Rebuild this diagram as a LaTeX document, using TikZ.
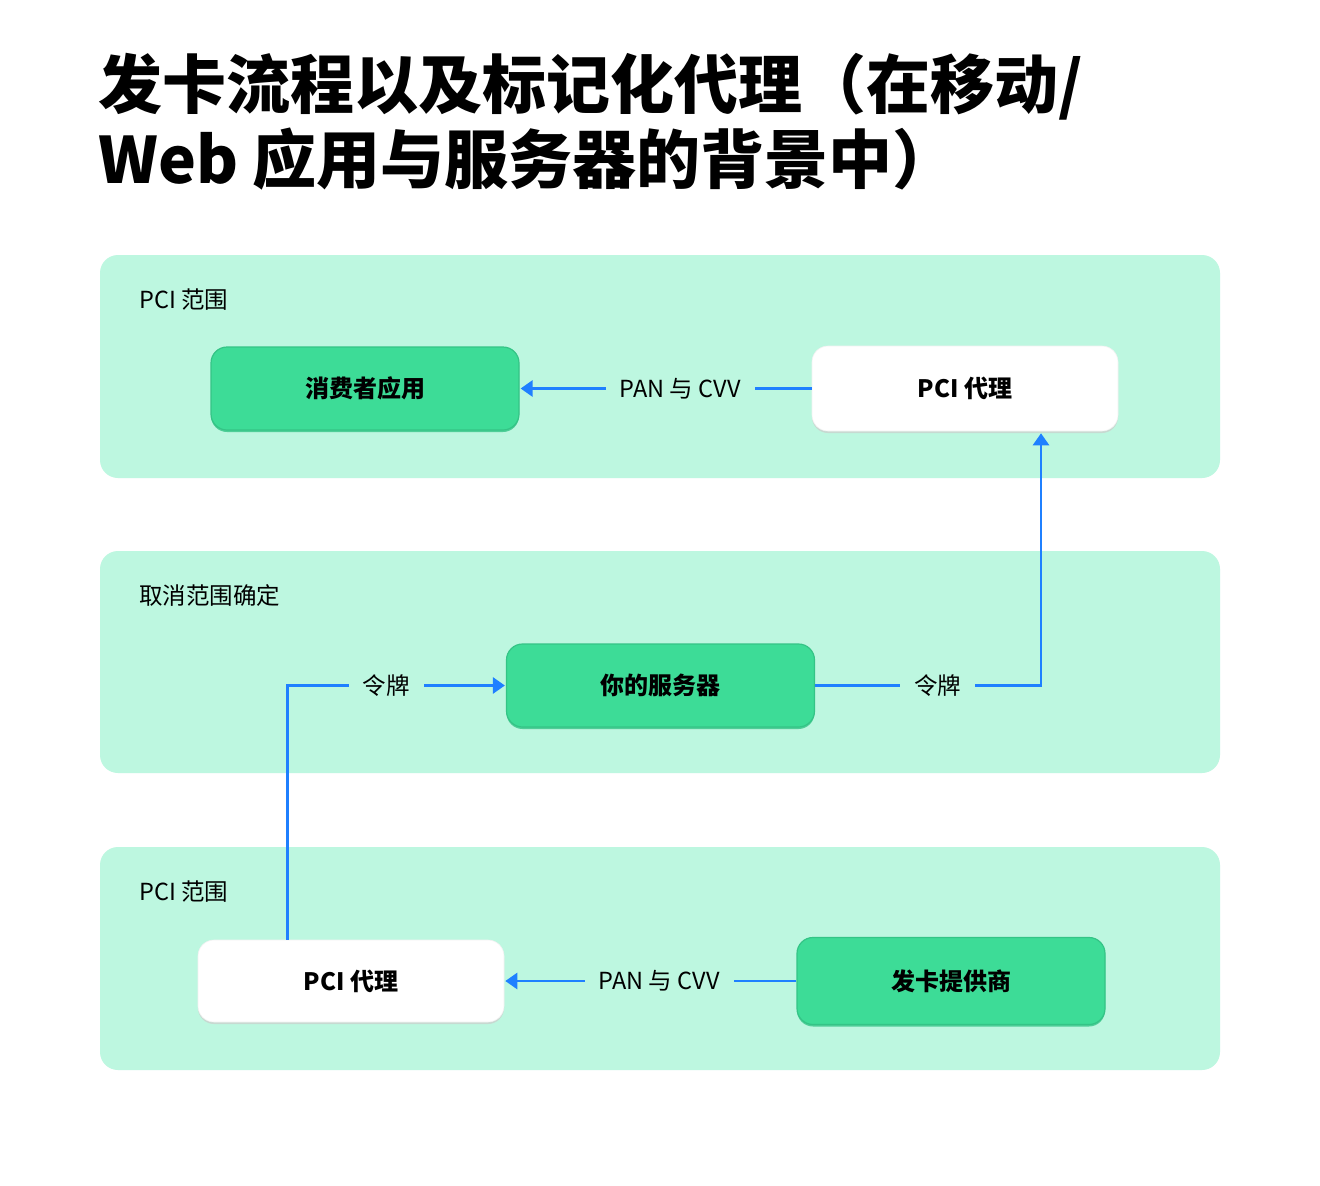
\documentclass[tikz,border=0pt]{standalone}
\usepackage{fontspec}
\setmainfont{Noto Sans CJK SC}
\usetikzlibrary{arrows.meta,calc,shadows}
\definecolor{panelbg}{HTML}{BDF7E0}
\definecolor{nodegreen}{HTML}{3DDC97}
\definecolor{greenedge}{HTML}{34C486}
\definecolor{flowblue}{HTML}{1F80FF}
\definecolor{shadowgray}{HTML}{C9D6D0}
\begin{document}
\begin{tikzpicture}[x=1pt,y=-1pt,
  panel/.style={fill=panelbg, rounded corners=18pt},
  panellabel/.style={anchor=west, inner sep=0pt, font=\fontsize{23.5}{28}\selectfont},
  greenbox/.style={rectangle, rounded corners=16pt, fill=nodegreen, draw=greenedge, line width=1.2pt,
    minimum width=308pt, minimum height=83pt, inner sep=0pt,
    font=\bfseries\fontsize{24}{28}\selectfont,
    drop shadow={shadow xshift=0pt, shadow yshift=-2pt, fill=greenedge, opacity=0.8}},
  whitebox/.style={rectangle, rounded corners=16pt, fill=white, draw=white!90!gray, line width=0.6pt,
    minimum width=306pt, minimum height=85pt, inner sep=0pt,
    font=\bfseries\fontsize{24}{28}\selectfont,
    drop shadow={shadow xshift=0pt, shadow yshift=-2pt, fill=shadowgray, opacity=0.9}},
  flow/.style={draw=flowblue, line width=2.8pt, -{Triangle[length=12pt,width=16pt]}},
  lbl/.style={fill=panelbg, inner xsep=14pt, inner ysep=4pt, font=\fontsize{23.5}{28}\selectfont}
]
\useasboundingbox[fill=white] (0,0) rectangle (1320,1186);

% title
\node[anchor=base west, inner sep=0pt, font=\bfseries\fontsize{64}{75}\selectfont] (title1) at (98,108) {发卡流程以及标记化代理（在移动/};
\node[anchor=base west, inner sep=0pt, font=\bfseries\fontsize{64}{75}\selectfont] (title2) at (98,183) {Web 应用与服务器的背景中）};

% panels
\fill[panel] (100,255) rectangle (1220,478);
\fill[panel] (100,551) rectangle (1220,773);
\fill[panel] (100,847) rectangle (1220,1070);

\node[panellabel] (p1) at (139,300) {PCI 范围};
\node[panellabel] (p2) at (139,596) {取消范围确定};
\node[panellabel] (p3) at (139,892) {PCI 范围};

% nodes
\node[greenbox] (app) at (365,388.5) {消费者应用};
\node[whitebox] (proxyTop) at (965,388.5) {PCI 代理};
\node[greenbox] (server) at (660.5,685.5) {你的服务器};
\node[whitebox, minimum height=82pt] (proxyBot) at (351,981) {PCI 代理};
\node[greenbox, minimum height=87pt] (issuer) at (951,981) {发卡提供商};

\coordinate (botUp) at ($(proxyBot.north west)+(90,0)$);
\coordinate (topIn) at ($(proxyTop.south)+(76,0)$);

% connectors
\draw[flow, shorten >=1pt] (proxyTop.west) -- node[lbl, pos=0.45] {PAN 与 CVV} (app.east);
\draw[flow, shorten >=1pt] (issuer.west) -- node[lbl, pos=0.47] {PAN 与 CVV} (proxyBot.east);
\draw[flow, shorten >=1pt] (botUp) |- node[lbl, pos=0.726] {令牌} (server.west);
\draw[flow, shorten >=2pt] (server.east) -| node[lbl, pos=0.271] {令牌} (topIn);
\end{tikzpicture}
\end{document}
